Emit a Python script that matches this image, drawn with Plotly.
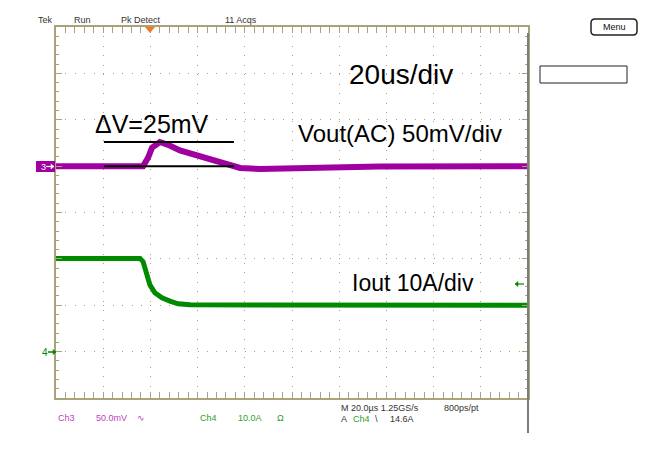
import plotly.graph_objects as go

W, H = 659, 465

# Ch3: Vout (AC), mV vs time (us)
t_vout = [-40, -3.1, -1.0, 0.7, 4.0, 7.5, 12.5, 19.0, 25.0, 31.6, 38.0, 46.4, 59.0, 76.0, 97.0, 160]
vout_mv = [0, 0, 9, 20, 26, 23, 17, 12, 8, 3.5, -2, -3, -2.5, -1, -0.5, 0]
# Ch4: Iout, A vs time (us)
t_iout = [-40, -4.4, -3.1, -1.4, -0.2, 1.9, 4.9, 8.3, 11.7, 16.8, 160]
iout_a = [20.1, 20.1, 19.4, 16.5, 14.4, 12.7, 11.6, 10.9, 10.3, 10.1, 10.0]

# ---- screen geometry helpers (pixels -> paper) ----
def px(x):
    return x / W

def py(y):
    return 1 - y / H

X0, X1, Y0, Y1 = 56, 528, 27, 398
GRID = "#aaa27a"
PURPLE = "#a000a0"
GREEN = "#008a00"
YDOM = [py(Y1), py(Y0)]

fig = go.Figure()
fig.add_trace(go.Scatter(x=t_vout, y=vout_mv, yaxis="y", mode="lines",
                         line=dict(color=PURPLE, width=6), showlegend=False, hoverinfo="skip"))
fig.add_trace(go.Scatter(x=t_iout, y=iout_a, yaxis="y2", mode="lines",
                         line=dict(color=GREEN, width=5), showlegend=False, hoverinfo="skip"))

shapes = []
# Delta V marker lines (drawn over the trace)
for v in (26, 0):
    shapes.append(dict(type="line", xref="x", yref="y", x0=-19.7, x1=35.4, y0=v, y1=v,
                       line=dict(color="black", width=2), layer="above"))
# right gray bar
shapes.append(dict(type="line", xref="paper", yref="paper", x0=px(528), x1=px(528),
                   y0=py(33), y1=py(433), line=dict(color="#7c7c7c", width=2)))
# trigger position triangle
shapes.append(dict(type="path", xref="paper", yref="paper",
                   path=f"M {px(145)} {py(27)} L {px(155)} {py(27)} L {px(150)} {py(33)} Z",
                   fillcolor="#f07a28", line=dict(width=0)))
# ch3 ground marker box
shapes.append(dict(type="rect", xref="paper", yref="paper", x0=px(36), x1=px(55),
                   y0=py(172), y1=py(161), fillcolor=PURPLE, line=dict(width=0)))


def arrow(x0, x1, y, color, width=1.2):
    """small horizontal arrow drawn in pixel coordinates, head at x1"""
    d = 3 if x1 > x0 else -3
    out = [dict(type="line", xref="paper", yref="paper", x0=px(x0), x1=px(x1),
                y0=py(y), y1=py(y), line=dict(color=color, width=width), layer="above")]
    out.append(dict(type="path", xref="paper", yref="paper",
                    path=f"M {px(x1)} {py(y)} L {px(x1 - d)} {py(y - 2.5)} "
                         f"L {px(x1 - d)} {py(y + 2.5)} Z",
                    fillcolor=color, line=dict(color=color, width=0.5), layer="above"))
    return out

shapes += arrow(46, 54, 166.5, "white")
shapes += arrow(48, 56, 352, GREEN, 1.5)
shapes += arrow(524, 515, 284, GREEN)

# right empty box
shapes.append(dict(type="rect", xref="paper", yref="paper", x0=px(540), x1=px(627),
                   y0=py(83), y1=py(66), line=dict(color="#222", width=1), fillcolor="white"))
# Menu rounded button
r = 4
mx0, mx1, my0, my1 = 591, 637, 19, 35
path = (f"M {px(mx0 + r)} {py(my0)} L {px(mx1 - r)} {py(my0)} "
        f"Q {px(mx1)} {py(my0)} {px(mx1)} {py(my0 + r)} L {px(mx1)} {py(my1 - r)} "
        f"Q {px(mx1)} {py(my1)} {px(mx1 - r)} {py(my1)} L {px(mx0 + r)} {py(my1)} "
        f"Q {px(mx0)} {py(my1)} {px(mx0)} {py(my1 - r)} L {px(mx0)} {py(my0 + r)} "
        f"Q {px(mx0)} {py(my0)} {px(mx0 + r)} {py(my0)} Z")
shapes.append(dict(type="path", xref="paper", yref="paper", path=path,
                   line=dict(color="#222", width=1.5), fillcolor="white"))

BIGF = "Liberation Sans, Arial, sans-serif"
SMALL = "Liberation Sans, Arial, sans-serif"

def big(x, y, s, size=24):
    return dict(x=px(x), y=py(y), xref="paper", yref="paper", text=s, showarrow=False,
                xanchor="left", yanchor="middle",
                font=dict(family=BIGF, size=size, color="black"))

def txt(x, y, s, color="#333", size=9, xanchor="left", font=SMALL):
    return dict(x=px(x), y=py(y), xref="paper", yref="paper", text=s, showarrow=False,
                xanchor=xanchor, yanchor="middle",
                font=dict(family=font, size=size, color=color))

ann = [
    big(93, 124, "ΔV=25mV", 25),
    big(347, 75, "20us/div", 28),
    big(296, 133, "Vout(AC) 50mV/div", 24),
    big(350, 283, "Iout 10A/div", 23),
    txt(36, 20, "Tek"), txt(72, 20, "Run"), txt(119, 20, "Pk Detect"), txt(223, 20, "11 Acqs"),
    txt(614, 27, "Menu", color="#111", size=9, xanchor="center"),
    txt(39, 167, "3", color="white", size=9),
    txt(40, 352, "4", color=GREEN, size=10),
    txt(56, 418, "Ch3", color="#c040c0"), txt(94, 418, "50.0mV", color="#c040c0"),
    txt(135, 418, "∿", color="#c040c0"),
    txt(198, 418, "Ch4", color="#30a030"), txt(236, 418, "10.0A", color="#30a030"),
    txt(275, 418, "Ω", color="#30a030"),
    txt(339, 408, "M 20.0µs 1.25GS/s", color="#333"), txt(442, 408, "800ps/pt", color="#333"),
    txt(339, 419, "A", color="#333"), txt(351, 419, "Ch4", color="#30a030"),
    txt(373, 419, "\\", color="#333"), txt(388, 419, "14.6A", color="#333"),
]

axis_common = dict(showticklabels=False, zeroline=False, showline=True, linecolor=GRID,
                   linewidth=2, mirror="allticks", ticks="inside", ticklen=6,
                   tickcolor=GRID, showgrid=True, gridcolor=GRID, gridwidth=1,
                   griddash="1px,8.44px")

fig.update_layout(
    width=W, height=H, autosize=False,
    margin=dict(l=0, r=0, t=0, b=0),
    paper_bgcolor="white", plot_bgcolor="white",
    xaxis=dict(range=[-40, 160], dtick=20, domain=[px(X0), px(X1)],
               minor=dict(dtick=4, ticklen=3, ticks="inside", tickcolor=GRID), **axis_common),
    yaxis=dict(range=[-250, 150], dtick=50, tick0=0, domain=YDOM,
               minor=dict(dtick=10, ticklen=3, ticks="inside", tickcolor=GRID), **axis_common),
    yaxis2=dict(range=[-10, 70], overlaying="y", domain=YDOM, visible=False,
                showgrid=False, zeroline=False),
    shapes=shapes, annotations=ann,
)

fig.write_html("out.html", config={"displayModeBar": False, "staticPlot": True},
               post_script="document.body.style.margin='0';")
